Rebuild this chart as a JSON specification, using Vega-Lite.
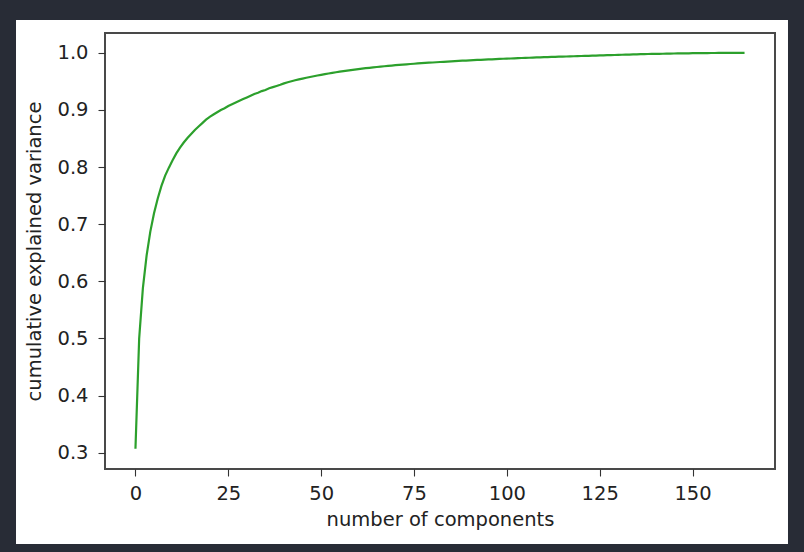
{
  "$schema": "https://vega.github.io/schema/vega-lite/v6.json",
  "width": 670,
  "height": 436,
  "autosize": {"type": "none"},
  "padding": {"left": 105, "top": 33, "right": 29, "bottom": 83},
  "background": "#282c36",
  "config": {
    "view": {"stroke": null, "fill": "white"},
    "axis": {
      "domain": false, "grid": false,
      "tickColor": "#333333", "tickSize": 7, "tickWidth": 1.1,
      "labelFont": "DejaVu Sans", "labelFontSize": 19.5, "labelColor": "#222222",
      "titleFont": "DejaVu Sans", "titleFontSize": 19.5, "titleColor": "#222222", "titleFontWeight": "normal"
    }
  },
  "data": {"values": [
    {"n":0,"v":0.307},{"n":1,"v":0.500},{"n":2,"v":0.588},{"n":3,"v":0.645},{"n":4,"v":0.687},
    {"n":5,"v":0.719},{"n":6,"v":0.745},{"n":7,"v":0.767},{"n":8,"v":0.785},{"n":9,"v":0.799},
    {"n":10,"v":0.812},{"n":11,"v":0.824},{"n":12,"v":0.834},{"n":13,"v":0.843},{"n":14,"v":0.851},
    {"n":15,"v":0.858},{"n":16,"v":0.865},{"n":17,"v":0.871},{"n":18,"v":0.877},{"n":19,"v":0.883},
    {"n":20,"v":0.888},{"n":21,"v":0.892},{"n":22,"v":0.896},{"n":23,"v":0.900},{"n":24,"v":0.903},
    {"n":25,"v":0.907},{"n":26,"v":0.910},{"n":27,"v":0.913},{"n":28,"v":0.916},{"n":29,"v":0.919},
    {"n":30,"v":0.922},{"n":31,"v":0.925},{"n":32,"v":0.928},{"n":33,"v":0.930},{"n":34,"v":0.933},
    {"n":35,"v":0.935},{"n":36,"v":0.938},{"n":37,"v":0.940},{"n":38,"v":0.942},{"n":39,"v":0.944},
    {"n":40,"v":0.9465},{"n":41,"v":0.9485},{"n":42,"v":0.9503},{"n":43,"v":0.9519},{"n":44,"v":0.9534},
    {"n":45,"v":0.9549},{"n":46,"v":0.9563},{"n":47,"v":0.9577},{"n":48,"v":0.9590},{"n":49,"v":0.9603},
    {"n":50,"v":0.9615},{"n":51,"v":0.9627},{"n":52,"v":0.9638},{"n":53,"v":0.9649},{"n":54,"v":0.9660},
    {"n":55,"v":0.9670},{"n":56,"v":0.9680},{"n":57,"v":0.9689},{"n":58,"v":0.9698},{"n":59,"v":0.9707},
    {"n":60,"v":0.9715},{"n":61,"v":0.9723},{"n":62,"v":0.9731},{"n":63,"v":0.9738},{"n":64,"v":0.9745},
    {"n":65,"v":0.9752},{"n":66,"v":0.9759},{"n":67,"v":0.9765},{"n":68,"v":0.9771},{"n":69,"v":0.9777},
    {"n":70,"v":0.9783},{"n":71,"v":0.9789},{"n":72,"v":0.9794},{"n":73,"v":0.9799},{"n":74,"v":0.9804},
    {"n":75,"v":0.9809},{"n":76,"v":0.9814},{"n":77,"v":0.9818},{"n":78,"v":0.9823},{"n":79,"v":0.9827},
    {"n":80,"v":0.9831},{"n":81,"v":0.9835},{"n":82,"v":0.9839},{"n":83,"v":0.9843},{"n":84,"v":0.9847},
    {"n":85,"v":0.9851},{"n":86,"v":0.9855},{"n":87,"v":0.9858},{"n":88,"v":0.9862},{"n":89,"v":0.9865},
    {"n":90,"v":0.9868},{"n":91,"v":0.9872},{"n":92,"v":0.9875},{"n":93,"v":0.9878},{"n":94,"v":0.9881},
    {"n":95,"v":0.9884},{"n":96,"v":0.9887},{"n":97,"v":0.9890},{"n":98,"v":0.9893},{"n":99,"v":0.9896},
    {"n":100,"v":0.9899},{"n":101,"v":0.9901},{"n":102,"v":0.9904},{"n":103,"v":0.9907},{"n":104,"v":0.9909},
    {"n":105,"v":0.9912},{"n":106,"v":0.9914},{"n":107,"v":0.9917},{"n":108,"v":0.9919},{"n":109,"v":0.9921},
    {"n":110,"v":0.9923},{"n":111,"v":0.9926},{"n":112,"v":0.9928},{"n":113,"v":0.9930},{"n":114,"v":0.9932},
    {"n":115,"v":0.9934},{"n":116,"v":0.9936},{"n":117,"v":0.9938},{"n":118,"v":0.9940},{"n":119,"v":0.9942},
    {"n":120,"v":0.9944},{"n":121,"v":0.9946},{"n":122,"v":0.9948},{"n":123,"v":0.9950},{"n":124,"v":0.9952},
    {"n":125,"v":0.9954},{"n":126,"v":0.9956},{"n":127,"v":0.9958},{"n":128,"v":0.9960},{"n":129,"v":0.9962},
    {"n":130,"v":0.9964},{"n":131,"v":0.9966},{"n":132,"v":0.9968},{"n":133,"v":0.9970},{"n":134,"v":0.9972},
    {"n":135,"v":0.9974},{"n":136,"v":0.9976},{"n":137,"v":0.9977},{"n":138,"v":0.9979},{"n":139,"v":0.9980},
    {"n":140,"v":0.9982},{"n":141,"v":0.9983},{"n":142,"v":0.9984},{"n":143,"v":0.9986},{"n":144,"v":0.9987},
    {"n":145,"v":0.9988},{"n":146,"v":0.9989},{"n":147,"v":0.9990},{"n":148,"v":0.9991},{"n":149,"v":0.9992},
    {"n":150,"v":0.9993},{"n":151,"v":0.9994},{"n":152,"v":0.9995},{"n":153,"v":0.9995},{"n":154,"v":0.9996},
    {"n":155,"v":0.9997},{"n":156,"v":0.9997},{"n":157,"v":0.9998},{"n":158,"v":0.9998},{"n":159,"v":0.9999},
    {"n":160,"v":0.9999},{"n":161,"v":0.9999},{"n":162,"v":1.0},{"n":163,"v":1.0},{"n":164,"v":1.0}
  ]},
  "layer": [
    {
      "mark": {"type": "rect", "fill": "white", "clip": false},
      "encoding": {
        "x": {"datum": -32.0, "type": "quantitative",
              "scale": {"domain": [-8.2, 172.2], "nice": false, "zero": false},
              "axis": {"values": [0, 25, 50, 75, 100, 125, 150], "format": "d", "title": "number of components", "labelPadding": 8, "titlePadding": 8, "zindex": 2}},
        "x2": {"datum": 175.5},
        "y": {"datum": 0.1402, "type": "quantitative",
              "scale": {"domain": [0.2715, 1.0347], "nice": false, "zero": false},
              "axis": {"values": [0.3, 0.4, 0.5, 0.6, 0.7, 0.8, 0.9, 1.0], "format": ".1f", "title": "cumulative explained variance", "labelPadding": 10, "titlePadding": 12, "zindex": 2}},
        "y2": {"datum": 1.0572}
      }
    },
    {
      "mark": {"type": "line", "color": "#2ca02c", "strokeWidth": 2.2, "clip": false},
      "encoding": {
        "x": {"field": "n", "type": "quantitative"},
        "y": {"field": "v", "type": "quantitative"}
      }
    },
    {
      "mark": {"type": "rect", "fill": null, "stroke": "#4a4a4a", "strokeWidth": 1.3, "clip": false},
      "encoding": {
        "x": {"datum": -8.2, "type": "quantitative"},
        "x2": {"datum": 172.2},
        "y": {"datum": 0.2715, "type": "quantitative"},
        "y2": {"datum": 1.0347}
      }
    }
  ]
}
